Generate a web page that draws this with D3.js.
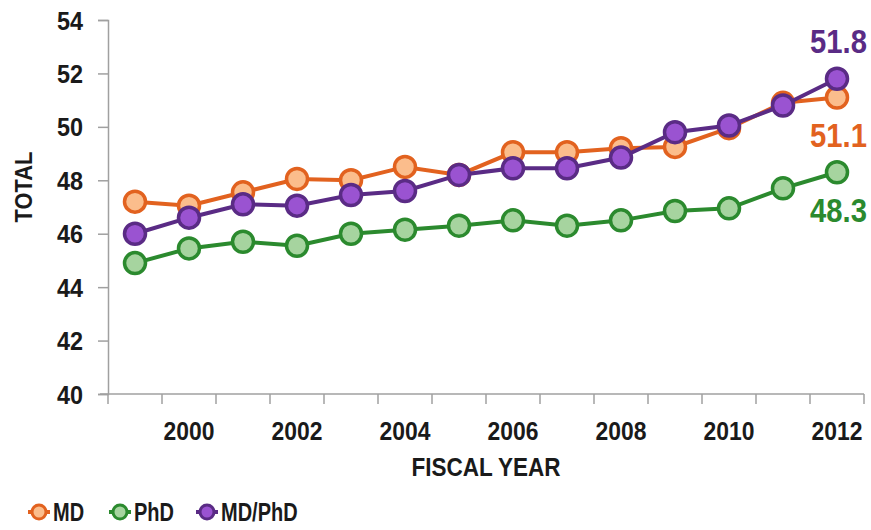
<!DOCTYPE html>
<html>
<head>
<meta charset="utf-8">
<script src="https://cdn.jsdelivr.net/npm/d3@7"></script>
<style>
    body { margin: 0; background: #fff; }
    svg { display: block; font-family: "Liberation Sans", Arial, sans-serif; font-weight: bold; }
</style>
</head>
<body>
<svg id="chart" width="871" height="530"></svg>
<script>
const years = [1999, 2000, 2001, 2002, 2003, 2004, 2005, 2006, 2007, 2008, 2009, 2010, 2011, 2012];
const mdValues = [47.2, 47.05, 47.55, 48.05, 48.0, 48.5, 48.2, 49.05, 49.05, 49.2, 49.25, 49.95, 50.9, 51.1];
const phdValues = [44.9, 45.45, 45.7, 45.55, 46.0, 46.15, 46.3, 46.5, 46.3, 46.5, 46.85, 46.95, 47.7, 48.3];
const mdPhdValues = [46.0, 46.6, 47.1, 47.05, 47.45, 47.6, 48.2, 48.45, 48.45, 48.85, 49.8, 50.05, 50.8, 51.8];
const yTicks = [40, 42, 44, 46, 48, 50, 52, 54];
const xTickLabels = [2000, 2002, 2004, 2006, 2008, 2010, 2012];
const endLabels = ["51.1", "48.3", "51.8"];

const series = [
    { name: "MD", values: mdValues, stroke: "#e2621f", fill: "#fbbd8c", label: endLabels[0], labelY: 147 },
    { name: "PhD", values: phdValues, stroke: "#2b8a2e", fill: "#a6d49f", label: endLabels[1], labelY: 222 },
    { name: "MD/PhD", values: mdPhdValues, stroke: "#5a2b85", fill: "#9a53d1", label: endLabels[2], labelY: 53 },
];

const svg = d3.select("#chart");
const m = { left: 108, right: 7, top: 20, bottom: 136 };
const W = 871, H = 530;
const ink = "#1a1a1a", axisGrey = "#a0a0a0";

const x = d3.scaleBand()
    .domain(years)
    .range([m.left, W - m.right]);

const y = d3.scaleLinear()
    .domain([40, 54])
    .range([H - m.bottom, m.top]);

// narrow text: scale horizontally around the anchor point
function narrowText(parent, tx, ty, str, size, sx, anchor, color) {
    return parent.append("text")
        .attr("transform", `translate(${tx},${ty}) scale(${sx},1)`)
        .attr("text-anchor", anchor)
        .attr("font-size", size)
        .attr("fill", color)
        .text(str);
}

// axes
const yAxis = svg.append("g")
    .attr("transform", `translate(${m.left},0)`)
    .call(d3.axisLeft(y).tickValues(yTicks).tickSize(10).tickFormat(""));
yAxis.select(".domain").attr("stroke", axisGrey).attr("stroke-width", 1.5);
yAxis.selectAll(".tick line").attr("stroke", axisGrey).attr("stroke-width", 1.5);
yTicks.forEach(t => narrowText(svg, 83, y(t) + 9.5, t, 26, 0.9, "end", ink));

const xAxis = svg.append("g")
    .attr("transform", `translate(0,${H - m.bottom})`)
    .call(d3.axisBottom(x).tickSize(0).tickSizeOuter(0).tickFormat(""));
xAxis.select(".domain").attr("stroke", axisGrey).attr("stroke-width", 1.5)
    .attr("d", `M${m.left - 8},0H${W - m.right}`);

// tick marks on band boundaries
const bounds = years.map(d => x(d)).concat([x(years[years.length - 1]) + x.bandwidth()]);
xAxis.selectAll(".bound")
    .data(bounds)
    .join("line")
    .attr("class", "bound")
    .attr("x1", d => d).attr("x2", d => d)
    .attr("y1", 0).attr("y2", 10)
    .attr("stroke", axisGrey)
    .attr("stroke-width", 1.5);

const cx = d => x(d) + x.bandwidth() / 2;
xTickLabels.forEach(t => narrowText(svg, cx(t), 440, t, 26, 0.88, "middle", ink));

// axis titles
narrowText(svg, (m.left + W - m.right) / 2, 476, "FISCAL YEAR", 25, 0.9, "middle", ink);

narrowText(svg, 0, 0, "TOTAL", 23, 0.95, "middle", ink)
    .attr("transform", "translate(32,187) rotate(-90) scale(0.95,1)");

// series
const line = d3.line()
    .x((d, i) => cx(years[i]))
    .y(d => y(d));

series.forEach(s => {
    const g = svg.append("g");
    g.append("path")
        .datum(s.values)
        .attr("d", line)
        .attr("fill", "none")
        .attr("stroke", s.stroke)
        .attr("stroke-width", 4);
    g.selectAll("circle")
        .data(s.values)
        .join("circle")
        .attr("cx", (d, i) => cx(years[i]))
        .attr("cy", d => y(d))
        .attr("r", 10.5)
        .attr("fill", s.fill)
        .attr("stroke", s.stroke)
        .attr("stroke-width", 3.5);
    narrowText(svg, 867, s.labelY, s.label, 34, 0.86, "end", s.stroke);
});

// legend
const legendX = [39, 120, 207];
const lg = svg.append("g");
series.forEach((s, i) => {
    const g = lg.append("g").attr("transform", `translate(${legendX[i]},512)`);
    g.append("line")
        .attr("x1", -11).attr("x2", 11)
        .attr("stroke", s.stroke).attr("stroke-width", 4);
    g.append("circle")
        .attr("r", 7)
        .attr("fill", s.fill)
        .attr("stroke", s.stroke)
        .attr("stroke-width", 3);
    narrowText(g, 14, 9, s.name, 25, 0.8, "start", ink);
});
</script>
</body>
</html>
